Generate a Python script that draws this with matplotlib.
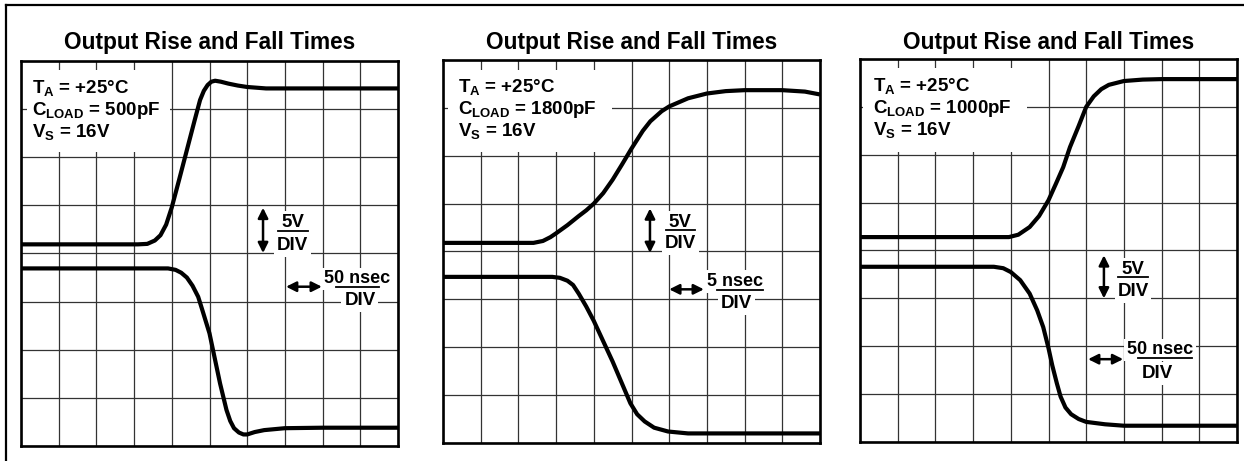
import matplotlib.pyplot as plt
from matplotlib.lines import Line2D
from matplotlib.patches import Rectangle

plt.rcParams['font.family'] = ['Liberation Sans', 'DejaVu Sans']
plt.rcParams['mathtext.fontset'] = 'custom'
plt.rcParams['mathtext.rm'] = 'Liberation Sans:bold'
plt.rcParams['mathtext.bf'] = 'Liberation Sans:bold'
plt.rcParams['mathtext.it'] = 'Liberation Sans:bold'

title = 'Output Rise and Fall Times'
loads = ['500pF', '1800pF', '1000pF']
time_div = ['50 nsec', '5 nsec', '50 nsec']

# scope traces, in graticule divisions (10 across, 8 up)
rise1_x = [0, 3.1, 3.35, 3.55, 3.7, 3.85, 4.0, 4.2, 4.4, 4.6, 4.75, 4.85, 4.95, 5.05, 5.15, 5.3, 5.5, 5.75, 6.0, 6.5, 7.0, 10]
rise1_y = [4.19, 4.19, 4.2, 4.27, 4.38, 4.6, 4.96, 5.55, 6.15, 6.75, 7.19, 7.38, 7.5, 7.57, 7.59, 7.57, 7.53, 7.49, 7.46, 7.43, 7.43, 7.43]
fall1_x = [0, 3.9, 4.1, 4.25, 4.4, 4.55, 4.7, 4.8, 5.0, 5.28, 5.45, 5.55, 5.65, 5.78, 5.9, 6.0, 6.2, 6.45, 7.0, 8.0, 10]
fall1_y = [3.69, 3.69, 3.66, 3.6, 3.5, 3.33, 3.1, 2.85, 2.34, 1.3, 0.75, 0.52, 0.37, 0.28, 0.24, 0.24, 0.29, 0.33, 0.37, 0.38, 0.38]

rise2_x = [0, 2.4, 2.65, 2.85, 3.0, 3.3, 3.6, 3.8, 4.0, 4.25, 4.5, 4.75, 5.0, 5.3, 5.5, 5.8, 6.0, 6.5, 7.0, 7.5, 8.0, 9.0, 9.6, 10]
rise2_y = [4.18, 4.18, 4.22, 4.3, 4.38, 4.55, 4.74, 4.86, 5.0, 5.22, 5.5, 5.82, 6.15, 6.52, 6.72, 6.93, 7.03, 7.2, 7.3, 7.35, 7.37, 7.37, 7.34, 7.28]
fall2_x = [0, 2.9, 3.1, 3.3, 3.45, 3.6, 3.8, 4.0, 4.5, 4.97, 5.15, 5.35, 5.6, 5.97, 6.5, 7.0, 10]
fall2_y = [3.47, 3.47, 3.45, 3.39, 3.3, 3.12, 2.85, 2.55, 1.7, 0.83, 0.6, 0.45, 0.32, 0.24, 0.2, 0.2, 0.2]

rise3_x = [0, 3.95, 4.2, 4.5, 4.75, 5.0, 5.2, 5.39, 5.57, 5.8, 6.0, 6.2, 6.4, 6.6, 7.0, 7.5, 8.0, 10]
rise3_y = [4.28, 4.28, 4.33, 4.49, 4.72, 5.05, 5.4, 5.74, 6.16, 6.6, 7.0, 7.22, 7.37, 7.46, 7.54, 7.57, 7.58, 7.58]
fall3_x = [0, 3.55, 3.8, 4.0, 4.25, 4.5, 4.7, 4.86, 5.0, 5.1, 5.22, 5.32, 5.45, 5.6, 5.8, 6.0, 6.5, 7.0, 10]
fall3_y = [3.66, 3.66, 3.63, 3.55, 3.38, 3.1, 2.75, 2.4, 1.96, 1.6, 1.23, 0.95, 0.72, 0.58, 0.48, 0.42, 0.37, 0.34, 0.34]

W, H = 1244, 461
fig = plt.figure(figsize=(W / 100, H / 100), dpi=100)

# left/top/right/bottom of each scope screen in pixels
boxes = [(21, 61, 398, 446), (443, 60, 820, 443), (860, 59, 1237, 442)]
traces = [(rise1_x, rise1_y, fall1_x, fall1_y),
          (rise2_x, rise2_y, fall2_x, fall2_y),
          (rise3_x, rise3_y, fall3_x, fall3_y)]
# spec block: text x, white patch (x0, x1, y0, y1)
spec_pos = [(0.29, (0.16, 3.96, 6.11, 7.82)),
            (0.40, (0.13, 4.48, 6.08, 7.79)),
            (0.34, (0.08, 4.43, 6.05, 7.81))]
# 5V/DIV: arrow x, arrow y0, y1, text x, 5V baseline, bar y, DIV baseline, bar x0, x1
volt_pos = [(6.42, 4.01, 4.95, 7.21, 4.55, 4.47, 4.07, 6.82, 7.62),
            (5.49, 3.97, 4.90, 6.29, 4.52, 4.45, 4.07, 5.92, 6.68),
            (6.47, 3.00, 3.90, 7.24, 3.51, 3.44, 3.05, 6.84, 7.64)]
# time/DIV: arrow x0, x1, y, text x, text baseline, bar y, bar x0, x1, DIV x, DIV baseline
time_pos = [(7.03, 7.98, 3.31, 8.91, 3.38, 3.30, 8.36, 9.50, 8.99, 2.93),
            (6.00, 6.92, 3.21, 7.75, 3.28, 3.19, 7.27, 8.49, 7.78, 2.82),
            (6.05, 6.98, 1.73, 7.96, 1.83, 1.75, 7.37, 8.81, 7.90, 1.34)]

white = dict(facecolor='white', edgecolor='none', pad=2)
arrow = dict(arrowstyle='<|-|>', color='black', lw=1.8, mutation_scale=15, shrinkA=0, shrinkB=0)

for i in range(3):
    l, t, r, b = boxes[i]
    ax = fig.add_axes([l / W, 1 - b / H, (r - l) / W, (b - t) / H])
    ax.set_xlim(0, 10)
    ax.set_ylim(0, 8)
    ax.set_xticks(range(11))
    ax.set_yticks(range(9))
    ax.tick_params(length=0, labelbottom=False, labelleft=False)
    ax.grid(True, color='#333333', lw=0.9)
    ax.set_axisbelow(True)
    for s in ax.spines.values():
        s.set_linewidth(1.9)

    rx, ry, fx, fy = traces[i]
    ax.plot(rx, ry, color='black', lw=3.0, solid_joinstyle='round', solid_capstyle='butt', zorder=4)
    ax.plot(fx, fy, color='black', lw=3.0, solid_joinstyle='round', solid_capstyle='butt', zorder=4)

    tx, (x0, x1, y0, y1) = spec_pos[i]
    ax.add_patch(Rectangle((x0, y0), x1 - x0, y1 - y0, facecolor='white', edgecolor='none', zorder=1))
    specs = ['$\\mathrm{T_A}$ = +25°C', '$\\mathrm{C_{LOAD}}$ = ' + loads[i], '$\\mathrm{V_S}$ = 16V']
    for k, s in enumerate(specs):
        ax.text(tx, 7.34 - 0.46 * k, s, fontsize=13.5, fontweight='bold', va='baseline', zorder=5)

    ax_x, ay0, ay1, vx, vy, vb, dy, bx0, bx1 = volt_pos[i]
    ax.text(vx, vy, '5V', fontsize=13.5, fontweight='bold', ha='center', va='baseline', bbox=white, zorder=5)
    ax.text(vx, dy, 'DIV', fontsize=13.5, fontweight='bold', ha='center', va='baseline', bbox=white, zorder=5)
    ax.plot([bx0, bx1], [vb, vb], color='black', lw=1.3, zorder=6)
    ax.annotate('', xy=(ax_x, ay1), xytext=(ax_x, ay0), arrowprops=arrow, zorder=7)

    hx0, hx1, hy, nx, ny, nb, nbx0, nbx1, dx, ddy = time_pos[i]
    ax.text(nx, ny, time_div[i], fontsize=13, fontweight='bold', ha='center', va='baseline', bbox=white, zorder=5)
    ax.text(dx, ddy, 'DIV', fontsize=13.5, fontweight='bold', ha='center', va='baseline', bbox=white, zorder=5)
    ax.plot([nbx0, nbx1], [nb, nb], color='black', lw=1.3, zorder=6)
    ax.annotate('', xy=(hx1, hy), xytext=(hx0, hy), arrowprops=arrow, zorder=7)

    fig.text((l + r) / 2 / W, 1 - 43 / H, title, fontsize=16.3, fontweight='bold', ha='center', va='center')

# outer frame: top and left edges only
fig.add_artist(Line2D([6 / W, 1], [1 - 5 / H, 1 - 5 / H], color='black', lw=1.6))
fig.add_artist(Line2D([6 / W, 6 / W], [0, 1 - 5 / H], color='black', lw=1.6))

fig.savefig('out.png', dpi=100)
